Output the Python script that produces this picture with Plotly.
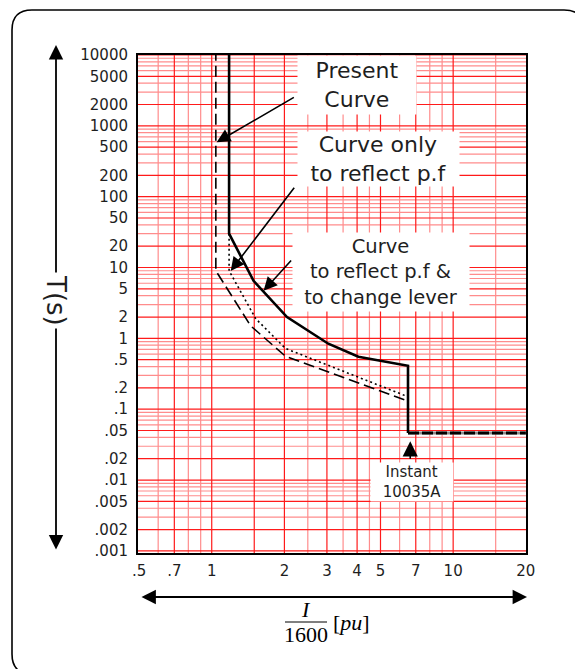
import math
import plotly.graph_objects as go

# ---------------- data ----------------
x_tick_vals = [0.5, 0.7, 1, 2, 3, 4, 5, 7, 10, 20]
x_tick_text = [".5", ".7", "1", "2", "3", "4", "5", "7", "10", "20"]
y_tick_vals = [10000, 5000, 2000, 1000, 500, 200, 100, 50, 20, 10, 5, 2, 1,
               0.5, 0.2, 0.1, 0.05, 0.02, 0.01, 0.005, 0.002, 0.001]
y_tick_text = ["10000", "5000", "2000", "1000", "500", "200", "100", "50", "20", "10",
               "5", "2", "1", ".5", ".2", ".1", ".05", ".02", ".01", ".005", ".002", ".001"]

grid_x_strong = [0.7, 1, 1.5, 2, 3, 4, 5, 7, 10]
grid_x_light = [0.6, 0.8, 0.9, 2.5, 3.5, 4.5, 6, 8, 9, 15]
grid_y_decades = [-3, -2, -1, 0, 1, 2, 3]
grid_y_mult_strong = [1, 2, 5]
grid_y_mult_light = [3, 4, 6, 7, 8, 9]

# Present curve (solid)
present_I = [1.18, 1.18, 1.49, 2.05, 3.04, 4.05, 6.5, 6.5]
present_T = [20000, 30, 6.5, 2.0, 0.84, 0.55, 0.41, 0.046]
# Curve to reflect p.f & to change lever (dashed)
lever_I = [1.04, 1.04, 1.45, 2.02, 6.5, 6.5]
lever_T = [20000, 9.0, 1.5, 0.56, 0.13, 0.046]
# Curve only to reflect p.f (dotted)
pf_I = [1.18, 1.18, 1.52, 2.02, 6.5]
pf_T = [30, 9.0, 1.9, 0.72, 0.15]
# Instantaneous element (10035 A / 1600)
inst_I = [6.5, 20]
inst_T = [0.046, 0.046]

# ---------------- helpers ----------------
W, H = 575, 669
L, R, T, B = 138, 49, 55, 116
PW, PH = W - L - R, H - T - B


def px(xp):
    return (xp - L) / PW


def py(yp):
    return (H - B - yp) / PH


def lg(v):
    return math.log10(v)


fig = go.Figure()


def vlines(vals):
    xs, ys = [], []
    for v in vals:
        xs += [v, v, None]
        ys += [1e-4, 1e5, None]
    return xs, ys


def hlines(vals):
    xs, ys = [], []
    for v in vals:
        xs += [0.3, 30, None]
        ys += [v, v, None]
    return xs, ys


hy_light = [m * 10 ** d for d in grid_y_decades for m in grid_y_mult_light]
hy_strong = [m * 10 ** d for d in grid_y_decades for m in grid_y_mult_strong] + [10000]

for vals, fn, col in [(grid_x_light, vlines, "#ff8c8c"), (hy_light, hlines, "#ff8c8c"),
                      (grid_x_strong, vlines, "#ff1a1a"), (hy_strong, hlines, "#ff1a1a")]:
    xs, ys = fn(vals)
    fig.add_trace(go.Scatter(x=xs, y=ys, mode="lines", line=dict(color=col, width=1.2),
                             hoverinfo="skip"))

# curves
fig.add_trace(go.Scatter(x=inst_I, y=inst_T, mode="lines",
                         line=dict(color="#8a8a8a", width=3), hoverinfo="skip"))
fig.add_trace(go.Scatter(x=pf_I, y=pf_T, mode="lines",
                         line=dict(color="black", width=1.6, dash="2px,3px")))
fig.add_trace(go.Scatter(x=lever_I, y=lever_T, mode="lines",
                         line=dict(color="black", width=1.6, dash="11px,5px")))
fig.add_trace(go.Scatter(x=present_I, y=present_T, mode="lines",
                         line=dict(color="black", width=2.6)))
fig.add_trace(go.Scatter(x=inst_I, y=inst_T, mode="lines",
                         line=dict(color="black", width=3, dash="11px,3px")))

SANS = "DejaVu Sans"
SERIF = "Liberation Serif"
TXT = "#1e1e1e"

ann = []


def box(text, cx, cy, w, h, size):
    ann.append(dict(x=px(cx), y=py(cy), xref="paper", yref="paper", text=text,
                    showarrow=False, bgcolor="white", width=w, height=h,
                    borderpad=0, font=dict(family=SANS, size=size, color=TXT),
                    xanchor="center", yanchor="middle"))


def arrow(tipI, tipT, tailI, tailT, size=1.7):
    ann.append(dict(x=lg(tipI), y=lg(tipT), ax=lg(tailI), ay=lg(tailT),
                    xref="x", yref="y", axref="x", ayref="y", text="",
                    showarrow=True, arrowhead=2, arrowsize=size, arrowwidth=1.6,
                    arrowcolor="black", standoff=0, startstandoff=0))


def label(text, cx, cy, size, family, **kw):
    ann.append(dict(x=px(cx), y=py(cy), xref="paper", yref="paper", text=text,
                    showarrow=False, xanchor="center", yanchor="middle",
                    font=dict(family=family, size=size, color="black"), **kw))


box("Present<br>Curve", 357, 85, 118, 58, 22)
box("Curve only<br>to reflect p.f", 378.5, 159.5, 161, 54, 22)
box("Curve<br>to reflect p.f &amp;<br>to change lever", 381, 272, 176, 78, 19.5)
box("Instant<br>10035A", 412, 481.5, 82, 38, 15)

arrow(1.048, 585, 2.22, 2590)
arrow(1.198, 8.96, 2.22, 140)
arrow(1.64, 4.69, 2.16, 13.2)
arrow(6.64, 0.0352, 6.64, 0.019, size=1.9)

# axis arrows
ann.append(dict(x=px(56), y=py(45), xref="paper", yref="paper", ax=0, ay=506,
                text="", showarrow=True, arrowhead=2, startarrowhead=2,
                arrowside="end+start", arrowsize=1.6, startarrowsize=1.6,
                arrowwidth=1.8, arrowcolor="black", standoff=0, startstandoff=0))
ann.append(dict(x=px(527), y=py(597), xref="paper", yref="paper", ax=-387, ay=0,
                text="", showarrow=True, arrowhead=2, startarrowhead=2,
                arrowside="end+start", arrowsize=1.6, startarrowsize=1.6,
                arrowwidth=1.8, arrowcolor="black", standoff=0, startstandoff=0))
ann.append(dict(x=px(56), y=py(300), xref="paper", yref="paper", text="T(s)",
                textangle=90, showarrow=False, bgcolor="white", borderpad=2,
                xanchor="center", yanchor="middle",
                font=dict(family=SANS, size=26, color=TXT)))

# x label as fraction
label("<i>I</i>", 306, 609, 22, SERIF)
label("1600", 306, 634, 22, SERIF)
label("[<i>pu</i>]", 351, 622, 22, SERIF)

shapes = [
    dict(type="line", xref="paper", yref="paper", x0=px(285), x1=px(327),
         y0=py(622), y1=py(622), line=dict(color="black", width=1)),
]

# rounded outer frame (extends beyond the canvas at right/bottom)
x0f, y0f, x1f, y1f, r = 12, 10, 584, 674, 20
pts = [
    ("M", (x0f + r, y0f)), ("L", (x1f - r, y0f)), ("Q", (x1f, y0f), (x1f, y0f + r)),
    ("L", (x1f, y1f - r)), ("Q", (x1f, y1f), (x1f - r, y1f)),
    ("L", (x0f + r, y1f)), ("Q", (x0f, y1f), (x0f, y1f - r)),
    ("L", (x0f, y0f + r)), ("Q", (x0f, y0f), (x0f + r, y0f)),
]
path = ""
for item in pts:
    cmd = item[0]
    coords = " ".join(f"{px(a):.5f},{py(b):.5f}" for a, b in item[1:])
    path += f"{cmd} {coords} "
path += "Z"
shapes.append(dict(type="path", xref="paper", yref="paper", path=path,
                   line=dict(color="black", width=1.6), layer="above"))

fig.update_layout(
    width=W, height=H,
    margin=dict(l=L, r=R, t=T, b=B, pad=0),
    paper_bgcolor="white", plot_bgcolor="white",
    showlegend=False,
    annotations=ann, shapes=shapes,
    xaxis=dict(type="log", range=[lg(0.495), lg(20.03)], tickmode="array",
               tickvals=x_tick_vals, ticktext=x_tick_text, showgrid=False,
               zeroline=False, showline=True, mirror=True, linecolor="black",
               linewidth=2, ticks="", ticklabelstandoff=3,
               tickfont=dict(family=SANS, size=15, color=TXT)),
    yaxis=dict(type="log", range=[-3.03, 4.0], tickmode="array",
               tickvals=y_tick_vals, ticktext=y_tick_text, showgrid=False,
               zeroline=False, showline=True, mirror=True, linecolor="black",
               linewidth=2, ticks="", ticklabelstandoff=5,
               tickfont=dict(family=SANS, size=15, color=TXT)),
)

fig.write_html("out.html")
